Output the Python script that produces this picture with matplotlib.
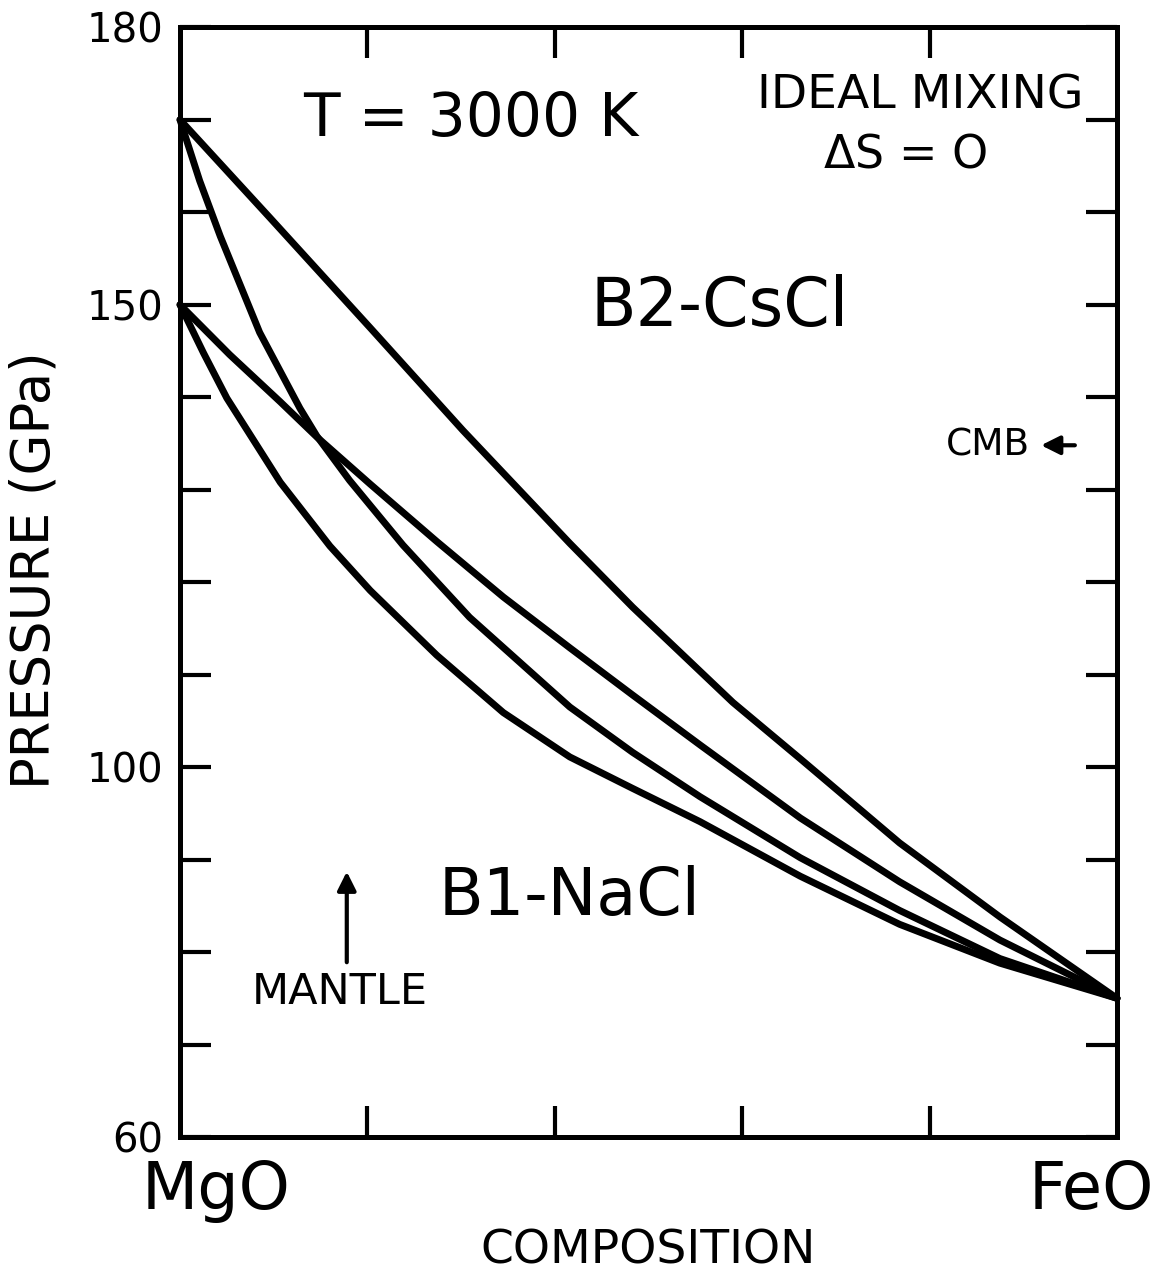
import numpy as np
import matplotlib.pyplot as plt

plt.rcParams['font.family'] = ['DejaVu Sans']

# composition: 0 = MgO, 1 = FeO ; pressure in GPa
x_a = [0, 0.096, 0.203, 0.302, 0.416, 0.483, 0.590, 0.662, 0.768, 0.875, 1.0]
p_a = [170, 159.4, 147.5, 136.4, 124.2, 117.3, 107.0, 100.9, 91.8, 83.8, 75]

x_b = [0, 0.021, 0.043, 0.085, 0.128, 0.146, 0.181, 0.238, 0.309, 0.416, 0.483, 0.555, 0.662, 0.768, 0.875, 1.0]
p_b = [170, 163.4, 157.4, 147.0, 138.8, 135.8, 131.0, 124.0, 116.2, 106.5, 101.6, 96.8, 90.2, 84.5, 79.3, 75]

x_c = [0, 0.053, 0.107, 0.146, 0.203, 0.274, 0.345, 0.416, 0.483, 0.555, 0.662, 0.768, 0.875, 1.0]
p_c = [150, 144.6, 139.5, 135.7, 130.6, 124.4, 118.4, 112.9, 107.8, 102.4, 94.5, 87.6, 81.3, 75]

x_d = [0, 0.025, 0.050, 0.107, 0.160, 0.203, 0.274, 0.345, 0.416, 0.483, 0.555, 0.662, 0.768, 0.875, 1.0]
p_d = [150, 144.8, 139.9, 130.8, 123.9, 119.1, 112.1, 105.9, 101.1, 97.7, 94.1, 88.2, 83.0, 78.8, 75]

y_ticks = list(range(60, 181, 10))
y_labels = ['60', '', '', '', '100', '', '', '', '', '150', '', '', '180']
x_ticks = [0.2, 0.4, 0.6, 0.8]

cmb = 134.8      # core mantle boundary pressure
mantle_x = 0.178  # mantle composition

fig = plt.figure(figsize=(11.65, 12.8), dpi=100)
ax = fig.add_axes([0.1545, 0.1117, 0.8043, 0.867])

for xs, ps in [(x_a, p_a), (x_b, p_b), (x_c, p_c), (x_d, p_d)]:
    ax.plot(xs, ps, color='black', lw=5, solid_capstyle='round', solid_joinstyle='round', clip_on=False)

ax.set_xlim(0, 1)
ax.set_ylim(60, 180)
ax.set_yticks(y_ticks)
ax.set_yticklabels(y_labels, fontsize=29)
ax.set_xticks(x_ticks)
ax.set_xticklabels([])
ax.tick_params(direction='in', length=22, width=3, top=True, right=True, pad=12)
for s in ax.spines.values():
    s.set_linewidth(3.6)

ax.set_ylabel('PRESSURE (GPa)', fontsize=38)
ax.yaxis.set_label_coords(-0.128, 0.511)
ax.set_xlabel('COMPOSITION', fontsize=34, labelpad=54)

ax.text(0.038, 54.2, 'MgO', fontsize=47, ha='center', va='center')
ax.text(0.973, 54.2, 'FeO', fontsize=47, ha='center', va='center')

ax.text(0.31, 170.0, 'T = 3000 K', fontsize=43, ha='center', va='center')
ax.text(0.79, 172.6, 'IDEAL MIXING', fontsize=34, ha='center', va='center')
ax.text(0.774, 166.2, r'$\Delta$S = O', fontsize=33, ha='center', va='center')
ax.text(0.576, 149.7, 'B2-CsCl', fontsize=48, ha='center', va='center')
ax.text(0.416, 86.0, 'B1-NaCl', fontsize=47, ha='center', va='center')

# CMB and mantle markers
ax.text(0.862, cmb, 'CMB', fontsize=27, ha='center', va='center')
ax.annotate('', xy=(0.916, cmb), xytext=(0.958, cmb),
            arrowprops=dict(arrowstyle='-|>', lw=3, color='black', mutation_scale=28))
ax.text(0.171, 75.7, 'MANTLE', fontsize=31, ha='center', va='center')
ax.annotate('', xy=(mantle_x, 89.0), xytext=(mantle_x, 78.6),
            arrowprops=dict(arrowstyle='-|>', lw=3, color='black', mutation_scale=28))

plt.savefig('out.png', dpi=100)
